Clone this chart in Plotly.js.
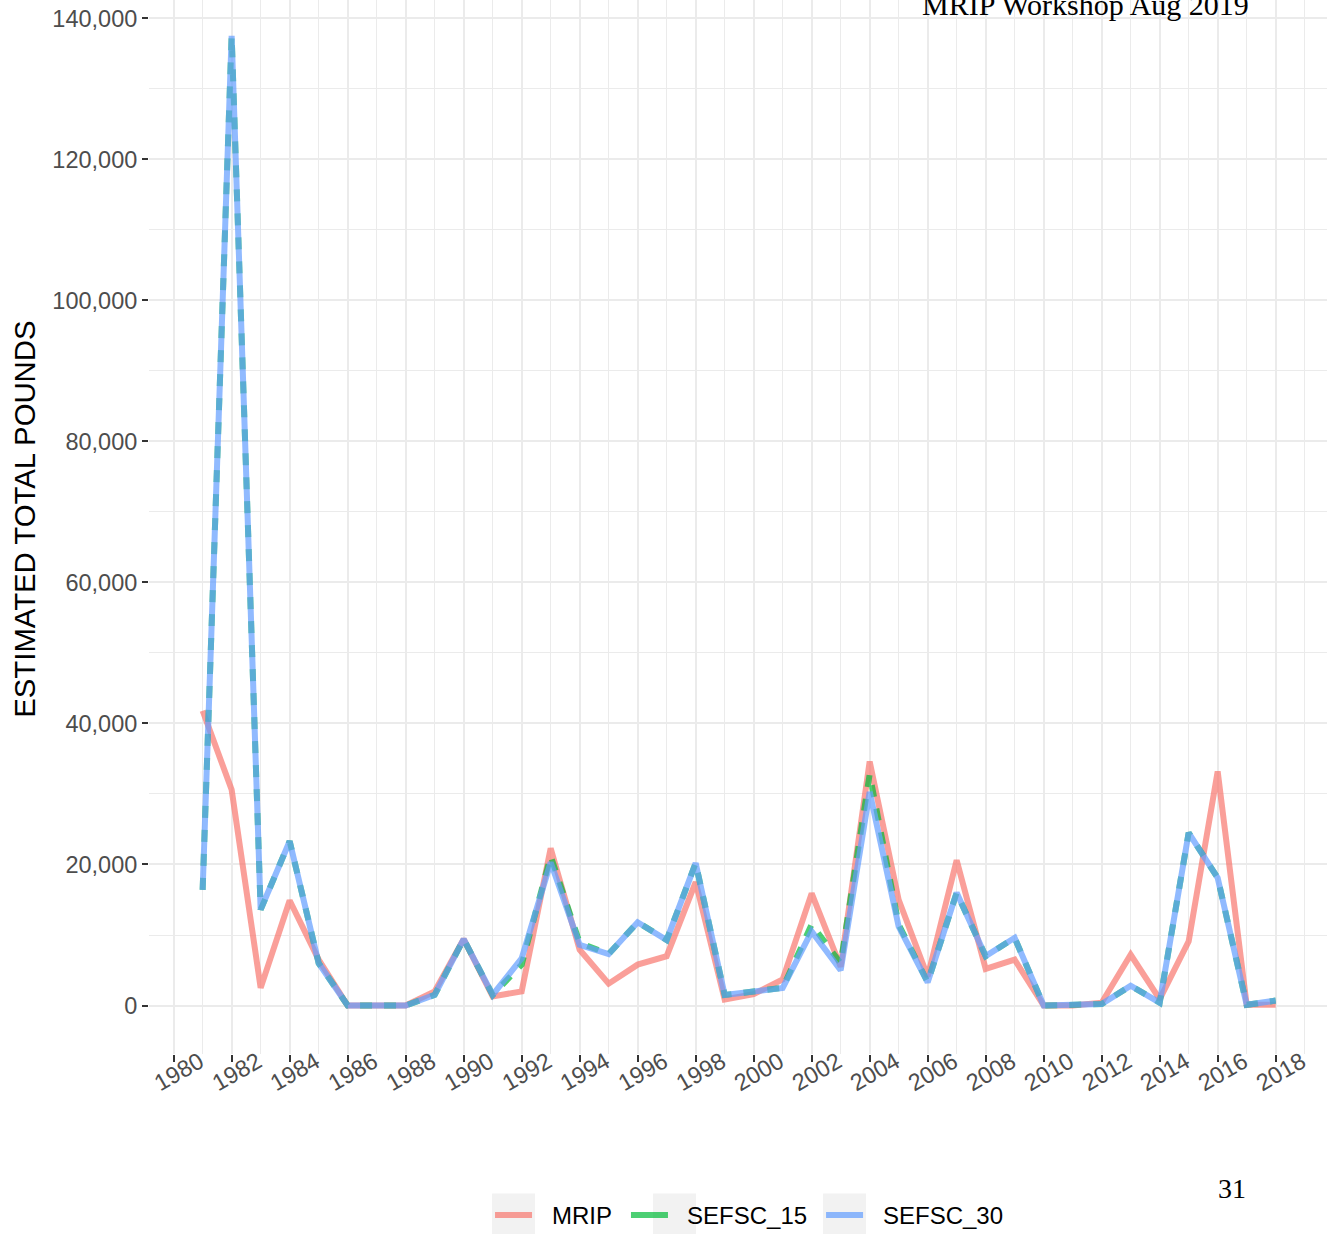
<!DOCTYPE html>
<html>
<head>
<meta charset="utf-8">
<script src="https://cdn.plot.ly/plotly-3.0.1.min.js"></script>
<style>
  html, body { margin: 0; padding: 0; background: #ffffff; }
  #chart { width: 1327px; height: 1234px; }
</style>
</head>
<body>
<div id="chart"></div>
<script>
// ---- data ----
const years = [1981,1982,1983,1984,1985,1986,1987,1988,1989,1990,
               1991,1992,1993,1994,1995,1996,1997,1998,1999,2000,
               2001,2002,2003,2004,2005,2006,2007,2008,2009,2010,
               2011,2012,2013,2014,2015,2016,2017,2018];

const mrip = [41800,30600,2500,14900,6500,0,0,0,2000,9400,
              1300,2000,22300,7900,3100,5800,7000,17500,850,1600,
              3700,15900,5500,34600,15000,4100,20600,5200,6500,0,
              0,400,7200,900,9100,33200,100,100];

const sefsc15 = [16400,137500,13600,23300,6000,0,0,0,1500,9400,
                 1500,5800,21200,8900,7300,11800,9300,20200,1500,2000,
                 2500,11500,6000,32800,11500,3300,16000,7000,9600,0,
                 0,200,2800,400,24500,18100,100,700];

const sefsc30 = [16400,137500,13600,23300,6000,0,0,0,1500,9400,
                 1500,6700,20300,8600,7300,11800,9300,20200,1500,2000,
                 2500,10500,5000,30300,11200,3300,16000,7000,9600,0,
                 0,200,2800,400,24500,18100,100,700];

const seriesNames = ['MRIP', 'SEFSC_15', 'SEFSC_30'];
const xTickVals = [1980,1982,1984,1986,1988,1990,1992,1994,1996,1998,
                   2000,2002,2004,2006,2008,2010,2012,2014,2016,2018];
const yTickVals = [0,20000,40000,60000,80000,100000,120000,140000];

// ---- styles ----
const colMRIP = 'rgba(248,118,109,0.7)';
const colS15  = 'rgba(0,186,56,0.7)';
const colS30  = 'rgba(97,156,255,0.7)';
const seriesColors = [colMRIP, colS15, colS30];
const LW = 6;

const traces = [
  { x: years, y: mrip, name: seriesNames[0], type: 'scatter', mode: 'lines',
    line: { color: colMRIP, width: LW }, showlegend: false },
  { x: years, y: sefsc15, name: seriesNames[1], type: 'scatter', mode: 'lines',
    line: { color: colS15, width: LW, dash: '12px,12px' }, showlegend: false },
  { x: years, y: sefsc30, name: seriesNames[2], type: 'scatter', mode: 'lines',
    line: { color: colS30, width: LW }, showlegend: false }
];

// legend: key lines (legend, legend2, legend3) and labels (legend4..6),
// split so that key and label spacing follows the ggplot layout
const keyLegendIds = ['legend', 'legend2', 'legend3'];
const labelLegendIds = ['legend4', 'legend5', 'legend6'];
seriesNames.forEach((nm, i) => {
  traces.push({ x: [null], y: [null], name: '', type: 'scatter', mode: 'lines',
    line: { color: seriesColors[i], width: 6 }, legend: keyLegendIds[i], hoverinfo: 'skip' });
  traces.push({ x: [null], y: [null], name: nm, type: 'scatter', mode: 'lines',
    line: { color: 'rgba(0,0,0,0)', width: 0 }, legend: labelLegendIds[i], hoverinfo: 'skip' });
});

const grid = '#EBEBEB';
const tickFont = { family: 'Liberation Sans, Arial, sans-serif', size: 23.5, color: '#4D4D4D' };
const legendFont = { family: 'Liberation Sans, Arial, sans-serif', size: 24, color: '#000000' };

function legendAt(xp, iw) {
  return { orientation: 'h', x: xp, xanchor: 'left', y: -0.1532, yanchor: 'middle',
           font: legendFont, bgcolor: 'rgba(0,0,0,0)', itemwidth: iw };
}

// legend key backgrounds (ggplot-style grey key boxes), paper coordinates
const keyBoxX = [[0.2912, 0.3277], [0.4279, 0.4644], [0.5722, 0.6087]];
const keyShapes = keyBoxX.map(([a, b]) => ({
  type: 'rect', xref: 'paper', yref: 'paper', x0: a, x1: b, y0: -0.1323, y1: -0.1759,
  fillcolor: '#F2F2F2', line: { width: 0 }, layer: 'below'
}));

const layout = {
  width: 1327, height: 1234,
  margin: { l: 149, r: 0, t: 0, b: 179.5, pad: 0, autoexpand: false },
  paper_bgcolor: '#ffffff', plot_bgcolor: '#ffffff',
  showlegend: true,
  legend:  legendAt(0.2895, 37),
  legend2: legendAt(0.4049, 37),
  legend3: legendAt(0.5705, 37),
  legend4: legendAt(0.3081, 30),
  legend5: legendAt(0.4228, 30),
  legend6: legendAt(0.5891, 30),
  shapes: keyShapes,
  xaxis: {
    range: [1979.15, 2019.77], tickmode: 'array', tickvals: xTickVals,
    ticktext: xTickVals.map(String), automargin: false,
    showgrid: true, gridcolor: grid, gridwidth: 2, zeroline: false, showline: false,
    ticks: 'outside', ticklen: 7, tickwidth: 2, tickcolor: '#333333',
    tickangle: -30, tickfont: tickFont, ticklabelshift: 26, ticklabelstandoff: -23,
    minor: { dtick: 1, tick0: 1980, showgrid: true, gridcolor: grid, gridwidth: 1, ticks: '' },
    fixedrange: true
  },
  yaxis: {
    range: [-6875, 142594], tickmode: 'array', tickvals: yTickVals,
    ticktext: yTickVals.map(v => v.toLocaleString('en-US')), automargin: false,
    showgrid: true, gridcolor: grid, gridwidth: 2, zeroline: false, showline: false,
    ticks: 'outside', ticklen: 6, tickwidth: 2, tickcolor: '#333333',
    tickfont: tickFont, ticklabelstandoff: 0,
    minor: { dtick: 10000, tick0: 0, showgrid: true, gridcolor: grid, gridwidth: 1, ticks: '' },
    fixedrange: true
  },
  annotations: [
    { text: 'ESTIMATED TOTAL POUNDS', textangle: -90, xref: 'paper', yref: 'paper',
      x: -0.1053, y: 0.5078, xanchor: 'center', yanchor: 'middle', showarrow: false,
      font: { family: 'Liberation Sans, Arial, sans-serif', size: 29.3, color: '#000000' } },
    { text: 'MRIP Workshop Aug 2019', xref: 'paper', yref: 'paper',
      x: 0.795, y: 0.9962, xanchor: 'center', yanchor: 'middle', showarrow: false,
      font: { family: 'Liberation Serif, Times New Roman, serif', size: 30, color: '#000000' } },
    { text: '31', xref: 'paper', yref: 'paper',
      x: 0.9193, y: -0.1276, xanchor: 'center', yanchor: 'middle', showarrow: false,
      font: { family: 'Liberation Serif, Times New Roman, serif', size: 28, color: '#000000' } }
  ]
};

Plotly.newPlot('chart', traces, layout, { staticPlot: true, displayModeBar: false });
</script>
</body>
</html>
